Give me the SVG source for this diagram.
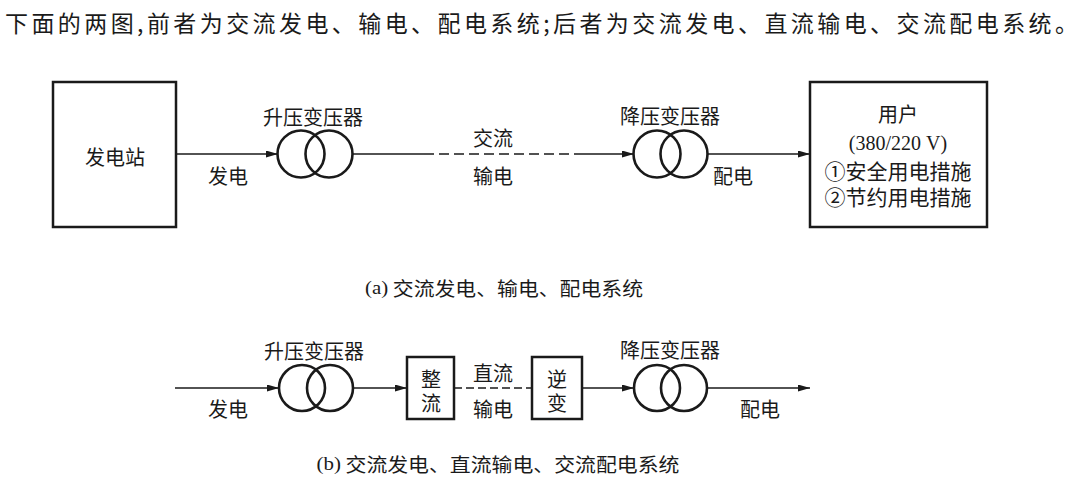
<svg xmlns="http://www.w3.org/2000/svg" width="1089" height="486" viewBox="0 0 1089 486">
<style>
text{font-family:"Noto Sans CJK SC","Liberation Sans",sans-serif;fill:#1a1a1a;dominant-baseline:central}
.lbl{font-size:20px;text-anchor:middle}
.box{fill:none;stroke:#1a1a1a;stroke-width:2.5}
.tr{fill:none;stroke:#1a1a1a;stroke-width:2.6}
.ln{fill:none;stroke:#1a1a1a;stroke-width:1.6}
.dash{stroke-dasharray:10 5}
.arr{marker-end:url(#ah)}
.ser{font-family:"Liberation Serif","Noto Sans CJK SC",serif}
</style>
<defs>
<marker id="ah" markerUnits="userSpaceOnUse" markerWidth="13" markerHeight="8" refX="12" refY="3.5" orient="auto">
<path d="M0,0 L12,3.5 L0,7 z" fill="#1a1a1a"/>
</marker>
</defs>
<rect width="1089" height="486" fill="#fff"/>
<text id="header" x="5" y="22" font-size="23" textLength="1073" lengthAdjust="spacing">下面的两图,前者为交流发电、输电、配电系统;后者为交流发电、直流输电、交流配电系统。</text>

<g id="connectors">
<line class="ln arr" x1="176" y1="154" x2="278" y2="154"/>
<line class="ln" x1="353" y1="154" x2="424" y2="154"/>
<line class="ln dash" x1="424" y1="154" x2="578" y2="154"/>
<line class="ln arr" x1="578" y1="154" x2="634" y2="154"/>
<line class="ln arr" x1="707" y1="154" x2="810" y2="154"/>
<line class="ln arr" x1="175" y1="388" x2="279" y2="388"/>
<line class="ln arr" x1="353" y1="388" x2="407" y2="388"/>
<line class="ln" x1="454" y1="388" x2="532" y2="388" stroke-dasharray="8 4"/>
<line class="ln arr" x1="582" y1="388" x2="634" y2="388"/>
<line class="ln arr" x1="707" y1="388" x2="810" y2="388"/>
</g>

<g id="station">
<rect class="box" x="53" y="82" width="123" height="145"/>
<text class="lbl" x="115" y="156">发电站</text>
</g>
<g id="lbl-a-fadian"><text class="lbl" x="228" y="175">发电</text></g>
<g id="stepup-a">
<circle class="tr" cx="301" cy="154" r="23.5"/>
<circle class="tr" cx="329" cy="154" r="23.5"/>
<text class="lbl" x="313" y="116">升压变压器</text>
</g>
<g id="lbl-a-trans">
<text class="lbl" x="493" y="137">交流</text>
<text class="lbl" x="493" y="175">输电</text>
</g>
<g id="stepdown-a">
<circle class="tr" cx="657" cy="154" r="23.5"/>
<circle class="tr" cx="684" cy="154" r="23.5"/>
<text class="lbl" x="670" y="115">降压变压器</text>
</g>
<g id="lbl-a-peidian"><text class="lbl" x="733" y="175">配电</text></g>
<g id="user">
<rect class="box" x="810" y="82" width="177" height="145"/>
<text class="lbl" x="898" y="113">用户<tspan class="ser" x="898" y="143">(380/220 V)</tspan><tspan x="898" y="170" font-size="21">①安全用电措施</tspan><tspan x="898" y="196" font-size="21">②节约用电措施</tspan></text>
</g>
<g id="caption-a"><text x="504" y="287" font-size="19" text-anchor="middle" textLength="278" lengthAdjust="spacingAndGlyphs"><tspan class="ser">(a)</tspan> 交流发电、输电、配电系统</text></g>

<g id="lbl-b-fadian"><text class="lbl" x="228" y="408">发电</text></g>
<g id="stepup-b">
<circle class="tr" cx="302" cy="388" r="23"/>
<circle class="tr" cx="330" cy="388" r="23"/>
<text class="lbl" x="314" y="350">升压变压器</text>
</g>
<g id="rectifier">
<rect class="box" x="407" y="357" width="47" height="62"/>
<text class="lbl" x="431" y="378">整<tspan x="431" y="402">流</tspan></text>
</g>
<g id="lbl-b-trans">
<text class="lbl" x="493" y="372">直流</text>
<text class="lbl" x="493" y="408">输电</text>
</g>
<g id="inverter">
<rect class="box" x="532" y="357" width="50" height="62"/>
<text class="lbl" x="557" y="378">逆<tspan x="557" y="402">变</tspan></text>
</g>
<g id="stepdown-b">
<circle class="tr" cx="657" cy="388" r="23"/>
<circle class="tr" cx="684" cy="388" r="23"/>
<text class="lbl" x="670" y="349">降压变压器</text>
</g>
<g id="lbl-b-peidian"><text class="lbl" x="760" y="408">配电</text></g>
<g id="caption-b"><text x="498" y="463" font-size="19" text-anchor="middle" textLength="363" lengthAdjust="spacingAndGlyphs"><tspan class="ser">(b)</tspan> 交流发电、直流输电、交流配电系统</text></g>
</svg>
